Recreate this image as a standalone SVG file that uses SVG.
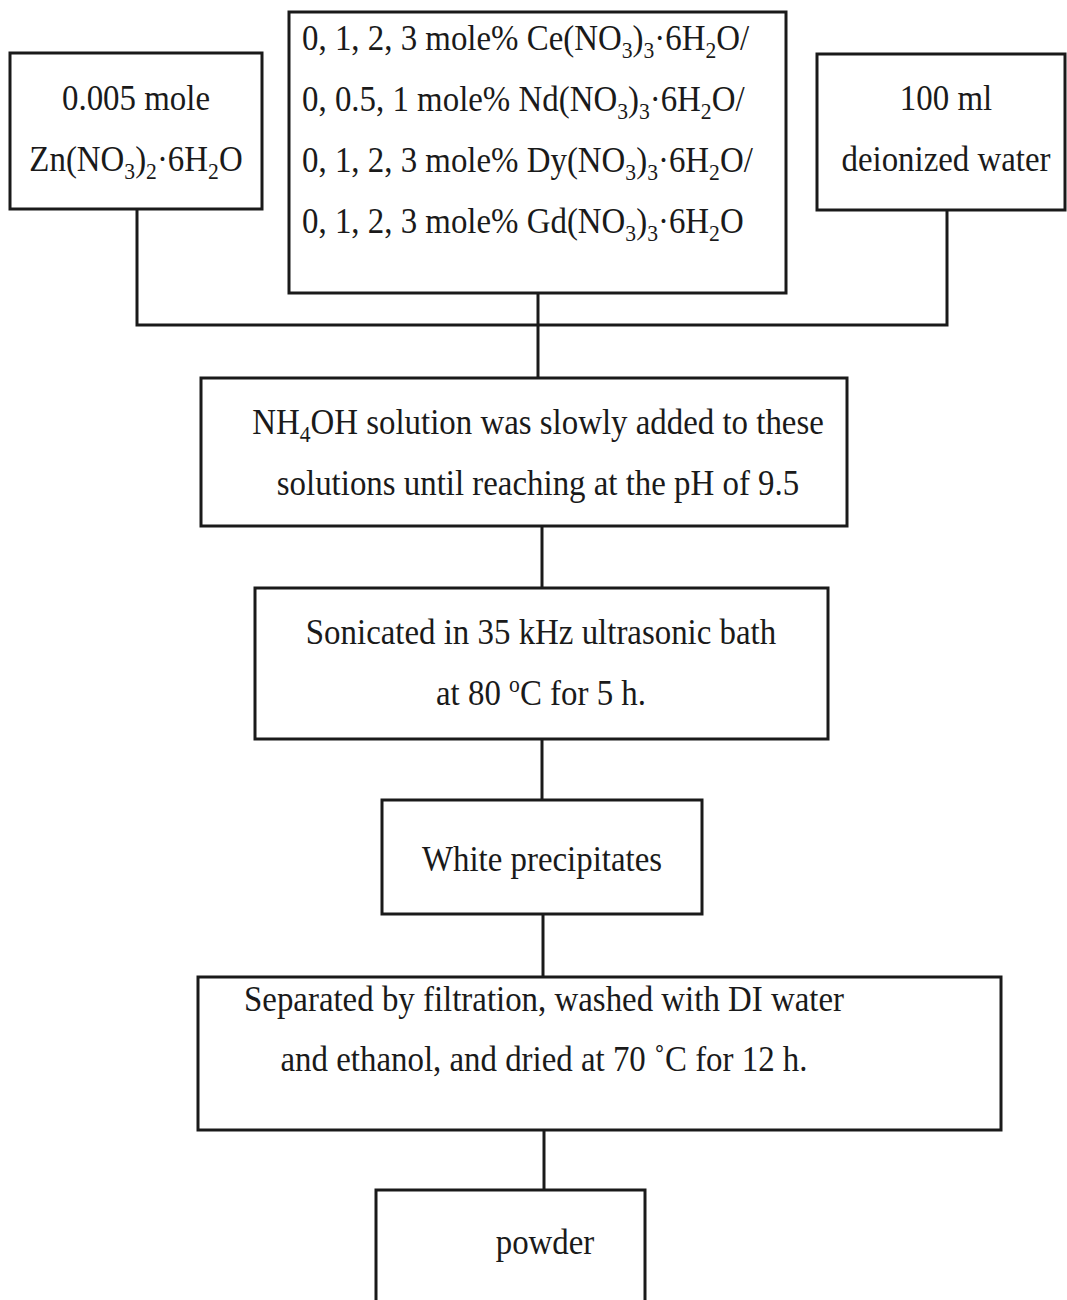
<svg xmlns="http://www.w3.org/2000/svg" width="1067" height="1300" viewBox="0 0 1067 1300">
<style>
  .box { fill: #ffffff; stroke: #1a1a1a; stroke-width: 3; }
  .conn { fill: none; stroke: #1a1a1a; stroke-width: 3; }
  text { font-family: "Liberation Serif", "Times New Roman", serif; font-size: 35px; fill: #1a1a1a; }
  .c { text-anchor: middle; }
  .l { text-anchor: start; }
  .sub { font-size: 23px; }
</style>
<rect x="0" y="0" width="1067" height="1300" fill="#ffffff"/>
<g id="connectors">
  <path class="conn" d="M137,209 V325 H947 V210"/>
  <path class="conn" d="M538,293 V378"/>
  <path class="conn" d="M542,526 V588"/>
  <path class="conn" d="M542,739 V800"/>
  <path class="conn" d="M543,914 V977"/>
  <path class="conn" d="M544,1130 V1190"/>
</g>
<g id="node-zn">
  <rect class="box" x="10" y="53" width="252" height="156"/>
  <g transform="translate(136 0) scale(0.94 1)">
    <text class="c" x="0" y="110">0.005 mole</text>
    <text class="c" x="0" y="171">Zn(NO<tspan class="sub" dy="8">3</tspan><tspan dy="-8">)</tspan><tspan class="sub" dy="8">2</tspan><tspan dy="-8">·6H</tspan><tspan class="sub" dy="8">2</tspan><tspan dy="-8">O</tspan></text>
  </g>
</g>
<g id="node-dopants">
  <rect class="box" x="289" y="12" width="497" height="281"/>
  <g transform="translate(302 0) scale(0.94 1)">
    <text class="l" x="0" y="50">0, 1, 2, 3 mole% Ce(NO<tspan class="sub" dy="8">3</tspan><tspan dy="-8">)</tspan><tspan class="sub" dy="8">3</tspan><tspan dy="-8">·6H</tspan><tspan class="sub" dy="8">2</tspan><tspan dy="-8">O/</tspan></text>
    <text class="l" x="0" y="111">0, 0.5, 1 mole% Nd(NO<tspan class="sub" dy="8">3</tspan><tspan dy="-8">)</tspan><tspan class="sub" dy="8">3</tspan><tspan dy="-8">·6H</tspan><tspan class="sub" dy="8">2</tspan><tspan dy="-8">O/</tspan></text>
    <text class="l" x="0" y="172">0, 1, 2, 3 mole% Dy(NO<tspan class="sub" dy="8">3</tspan><tspan dy="-8">)</tspan><tspan class="sub" dy="8">3</tspan><tspan dy="-8">·6H</tspan><tspan class="sub" dy="8">2</tspan><tspan dy="-8">O/</tspan></text>
    <text class="l" x="0" y="233">0, 1, 2, 3 mole% Gd(NO<tspan class="sub" dy="8">3</tspan><tspan dy="-8">)</tspan><tspan class="sub" dy="8">3</tspan><tspan dy="-8">·6H</tspan><tspan class="sub" dy="8">2</tspan><tspan dy="-8">O</tspan></text>
  </g>
</g>
<g id="node-water">
  <rect class="box" x="817" y="54" width="248" height="156"/>
  <g transform="translate(946 0) scale(0.94 1)">
    <text class="c" x="0" y="110">100 ml</text>
    <text class="c" x="0" y="171">deionized water</text>
  </g>
</g>
<g id="node-nh4oh">
  <rect class="box" x="201" y="378" width="646" height="148"/>
  <g transform="translate(538 0) scale(0.94 1)">
    <text class="c" x="0" y="434">NH<tspan class="sub" dy="8">4</tspan><tspan dy="-8">OH solution was slowly added to these</tspan></text>
    <text class="c" x="0" y="495">solutions until reaching at the pH of 9.5</text>
  </g>
</g>
<g id="node-sonicated">
  <rect class="box" x="255" y="588" width="573" height="151"/>
  <g transform="translate(541 0) scale(0.94 1)">
    <text class="c" x="0" y="644">Sonicated in 35 kHz ultrasonic bath</text>
    <text class="c" x="0" y="705">at 80 <tspan class="sub" dy="-13">o</tspan><tspan dy="13">C for 5 h.</tspan></text>
  </g>
</g>
<g id="node-white">
  <rect class="box" x="382" y="800" width="320" height="114"/>
  <g transform="translate(542 0) scale(0.94 1)">
    <text class="c" x="0" y="871">White precipitates</text>
  </g>
</g>
<g id="node-separated">
  <rect class="box" x="198" y="977" width="803" height="153"/>
  <g transform="translate(544 0) scale(0.94 1)">
    <text class="c" x="0" y="1011">Separated by filtration, washed with DI water</text>
    <text class="c" x="0" y="1071">and ethanol, and dried at 70 ˚C for 12 h.</text>
  </g>
</g>
<g id="node-powder">
  <rect class="box" x="376" y="1190" width="269" height="130"/>
  <g transform="translate(545 0) scale(0.94 1)">
    <text class="c" x="0" y="1254">powder</text>
  </g>
</g>
</svg>
